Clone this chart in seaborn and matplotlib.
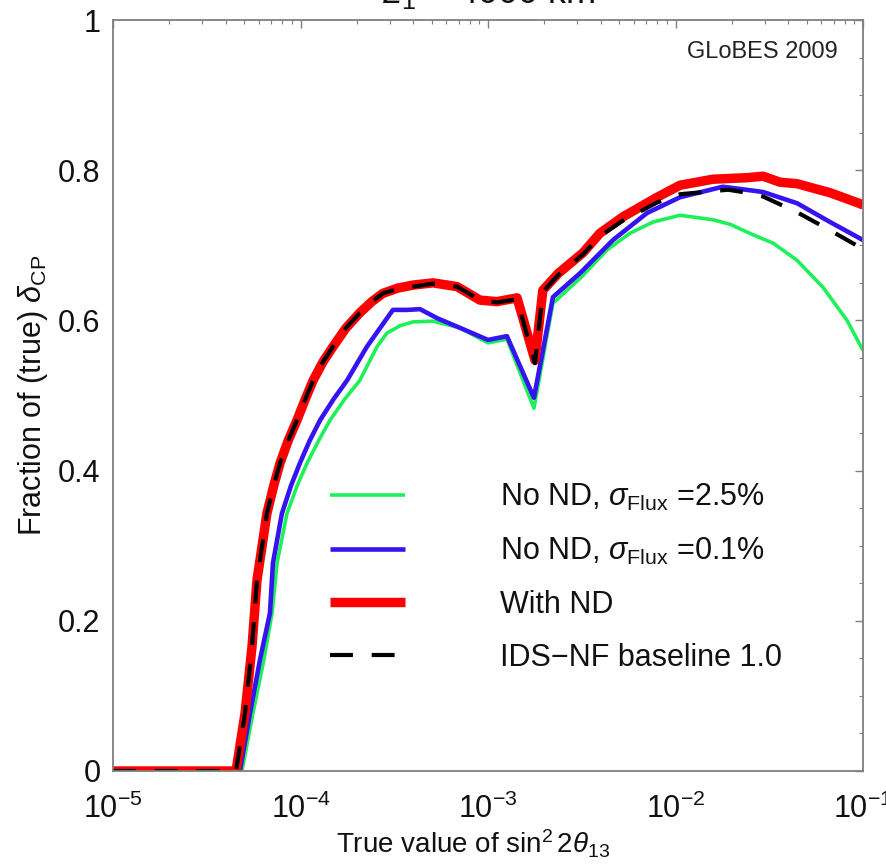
import matplotlib
matplotlib.use("Agg")
import matplotlib.pyplot as plt
import matplotlib.ticker as mticker
import seaborn as sns
import pandas as pd

# ---------------- data ----------------
x_green = [1e-5, 4.87e-5, 5.58e-5, 6.4e-5, 7.05e-5, 7.50e-5, 8.47e-5, 9.6e-5, 1.084e-4, 1.25e-4,
           1.436e-4, 1.72e-4, 2.07e-4, 2.56e-4, 2.89e-4, 3.4e-4, 3.98e-4, 5.09e-4, 7.10e-4,
           1.0e-3, 1.262e-3, 1.758e-3, 2.22e-3, 3.10e-3, 4.32e-3, 5.71e-3, 7.59e-3, 1.057e-2,
           1.585e-2, 1.954e-2, 2.59e-2, 3.31e-2, 4.45e-2, 6.12e-2, 8.22e-2, 0.1]
y_green = [0.0, 0.0, 0.077, 0.15, 0.21, 0.277, 0.343, 0.38, 0.41, 0.44, 0.467, 0.495, 0.52,
           0.565, 0.583, 0.593, 0.598, 0.599, 0.59, 0.57, 0.575, 0.483, 0.623, 0.656, 0.694,
           0.716, 0.731, 0.740, 0.734, 0.728, 0.714, 0.703, 0.680, 0.644, 0.600, 0.560]

x_blue = [1e-5, 4.75e-5, 5.38e-5, 6.1e-5, 6.87e-5, 7.13e-5, 7.96e-5, 8.9e-5, 9.93e-5, 1.12e-4,
          1.271e-4, 1.5e-4, 1.77e-4, 2.26e-4, 3.11e-4, 3.70e-4, 4.34e-4, 5.35e-4, 7.10e-4,
          1.0e-3, 1.262e-3, 1.758e-3, 2.22e-3, 3.10e-3, 4.64e-3, 7.05e-3, 1.057e-2, 1.79e-2,
          2.93e-2, 4.45e-2, 6.67e-2, 0.1]
y_blue = [0.0, 0.0, 0.077, 0.15, 0.21, 0.277, 0.343, 0.38, 0.41, 0.44, 0.467, 0.495, 0.52,
          0.565, 0.614, 0.614, 0.615, 0.603, 0.59, 0.574, 0.579, 0.497, 0.631, 0.663, 0.707,
          0.743, 0.764, 0.778, 0.771, 0.756, 0.731, 0.707]

x_red = [1e-5, 4.53e-5, 5.06e-5, 5.51e-5, 5.86e-5, 6.62e-5, 7.2e-5, 7.78e-5, 8.6e-5, 9.57e-5,
         1.06e-4, 1.167e-4, 1.32e-4, 1.49e-4, 1.75e-4, 2.07e-4, 2.4e-4, 2.75e-4, 3.3e-4,
         3.98e-4, 5.09e-4, 6.84e-4, 9.06e-4, 1.117e-3, 1.429e-3, 1.78e-3, 1.96e-3, 2.38e-3,
         3.21e-3, 3.95e-3, 5.25e-3, 7.98e-3, 1.057e-2, 1.585e-2, 2.40e-2, 2.93e-2, 3.61e-2,
         4.45e-2, 6.67e-2, 0.1]
y_red = [0.0, 0.0, 0.077, 0.165, 0.254, 0.343, 0.38, 0.41, 0.44, 0.467, 0.495, 0.52, 0.545,
         0.565, 0.59, 0.61, 0.625, 0.636, 0.643, 0.647, 0.65, 0.645, 0.627, 0.625, 0.63, 0.547,
         0.64, 0.663, 0.69, 0.716, 0.738, 0.764, 0.780, 0.788, 0.79, 0.792, 0.784, 0.782,
         0.77, 0.754]

x_black = [1e-5, 4.53e-5, 5.06e-5, 5.51e-5, 5.86e-5, 6.62e-5, 7.2e-5, 7.78e-5, 8.6e-5, 9.57e-5,
           1.06e-4, 1.167e-4, 1.32e-4, 1.49e-4, 1.75e-4, 2.07e-4, 2.4e-4, 2.75e-4, 3.3e-4,
           3.98e-4, 5.09e-4, 6.84e-4, 9.06e-4, 1.117e-3, 1.429e-3, 1.78e-3, 1.96e-3, 2.38e-3,
           3.21e-3, 3.95e-3, 5.25e-3, 7.98e-3, 1.057e-2, 1.91e-2, 2.27e-2, 2.93e-2, 4.45e-2,
           6.67e-2, 0.1]
y_black = [0.0, 0.0, 0.077, 0.165, 0.254, 0.343, 0.38, 0.41, 0.44, 0.467, 0.495, 0.52, 0.545,
           0.565, 0.59, 0.61, 0.625, 0.636, 0.642, 0.645, 0.649, 0.645, 0.627, 0.624, 0.628,
           0.543, 0.638, 0.661, 0.688, 0.712, 0.733, 0.757, 0.768, 0.774, 0.771, 0.765, 0.744,
           0.72, 0.695]

labels = [r"No ND, $\sigma_{\mathrm{Flux}}$ =2.5%",
          r"No ND, $\sigma_{\mathrm{Flux}}$ =0.1%",
          "With ND",
          "IDS\u2212NF baseline 1.0"]
x_ticks = [1e-5, 1e-4, 1e-3, 1e-2, 1e-1]
y_ticks = [0, 0.2, 0.4, 0.6, 0.8, 1]
y_tick_labels = ["0", "0.2", "0.4", "0.6", "0.8", "1"]

# ---------------- style ----------------
sns.set_style("white")
plt.rcParams["font.family"] = ["Liberation Sans", "DejaVu Sans"]
plt.rcParams["mathtext.fontset"] = "custom"
plt.rcParams["mathtext.rm"] = "Liberation Sans"
plt.rcParams["mathtext.it"] = "Liberation Sans:italic"
plt.rcParams["mathtext.bf"] = "Liberation Sans:bold"

W, H = 887, 868
fig = plt.figure(figsize=(W / 100, H / 100), dpi=100)
ax = fig.add_axes([113 / W, 1 - 771 / H, 750 / W, 751 / H])

series = [
    (x_green, y_green, "#1ef05a", 2.6, "-"),
    (x_blue, y_blue, "#3414f0", 3.3, "-"),
    (x_red, y_red, "#ff0000", 6.8, "-"),
    (x_black, y_black, "#000000", 3.0, (0, (5.5, 4.5))),
]
for (xs, ys, col, lw, ls), lab in zip(series, labels):
    df = pd.DataFrame({"x": xs, "y": ys})
    sns.lineplot(data=df, x="x", y="y", ax=ax, color=col, linewidth=lw,
                 linestyle=ls, sort=False, estimator=None, label=lab,
                 solid_capstyle="butt", dash_capstyle="butt", solid_joinstyle="round")

ax.set_xscale("log")
ax.set_xlim(1e-5, 1e-1)
ax.set_ylim(0, 1)
ax.set_xticks(x_ticks)
ax.xaxis.set_minor_locator(mticker.LogLocator(base=10, subs=range(2, 10), numticks=20))
ax.xaxis.set_minor_formatter(mticker.NullFormatter())
ax.set_yticks(y_ticks)
ax.set_yticklabels(y_tick_labels)
ax.yaxis.set_minor_locator(mticker.MultipleLocator(0.05))

gray = "#7f7f7f"
for s in ax.spines.values():
    s.set_color(gray)
    s.set_linewidth(1.3)
    s.set_visible(True)
ax.tick_params(which="both", direction="in", top=True, right=True, color=gray,
               labelsize=22, labelcolor="#111111")
ax.tick_params(which="major", length=6, width=1.0)
ax.tick_params(which="minor", length=3, width=0.8)
ax.tick_params(axis="y", which="major", pad=9)
ax.tick_params(axis="x", which="major", pad=16)

ax.set_xlabel(r"True value of sin$^2\,2\theta_{13}$", fontsize=20, color="#111111", labelpad=-2)
ax.xaxis.set_label_coords((473 - 113) / 750, -0.075)
ax.set_ylabel(r"Fraction of (true) $\delta_{\mathrm{CP}}$", fontsize=22, color="#111111",
              labelpad=6)

fig.text(838 / W, 1 - 52 / H, "GLoBES 2009", ha="right", va="center", fontsize=17,
         color="#222222")
fig.text(488 / W, 1 - 3 / H, r"$L_1$ = 4000 km", ha="center", va="baseline", fontsize=26,
         color="#111111")

leg = ax.legend(loc="upper left", bbox_to_anchor=((330 - 113) / 750, (771 - 482) / 751),
                frameon=False, fontsize=22, handlelength=2.46, handletextpad=3.1,
                labelspacing=0.75, borderpad=0, borderaxespad=0)
for t in leg.get_texts():
    t.set_color("#111111")

fig.savefig("out.png", dpi=100)
